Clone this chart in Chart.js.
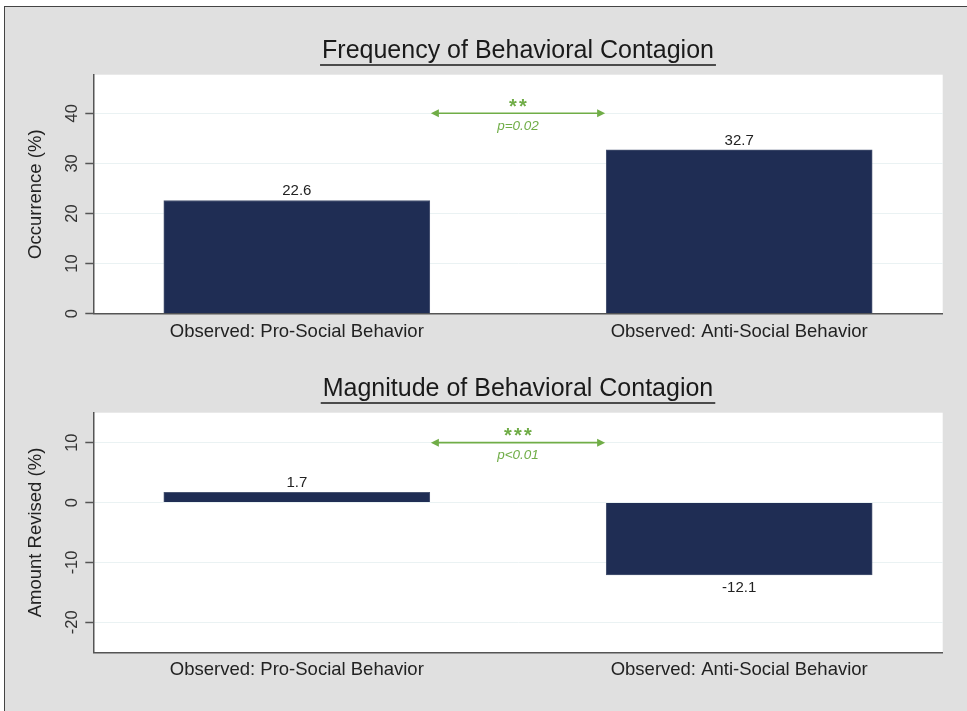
<!DOCTYPE html>
<html>
<head>
<meta charset="utf-8">
<script src="https://cdn.jsdelivr.net/npm/chart.js@4.4.1/dist/chart.umd.min.js"></script>
<style>
  html, body { margin: 0; padding: 0; background: #ffffff; width: 967px; height: 711px; overflow: hidden; }
  #frame { position: absolute; left: 4px; top: 6px; width: 963px; height: 705px; background: #e0e0e0;
           border-left: 1px solid #444; border-top: 1px solid #444; box-sizing: border-box; }
  canvas { position: absolute; left: 0; }
  #c1 { top: 0; }
  #c2 { top: 338px; }
</style>
</head>
<body>
<div id="frame"></div>
<canvas id="c1" width="967" height="355"></canvas>
<canvas id="c2" width="967" height="373"></canvas>
<script>
// ---------- data ----------
const categories = ['Observed: Pro-Social Behavior', 'Observed: Anti-Social Behavior'];
const frequencyValues = [22.6, 32.7];
const magnitudeValues = [1.7, -12.1];
const frequencyTicks = [0, 10, 20, 30, 40];
const magnitudeTicks = [-20, -10, 0, 10];
const panelTitles = ['Frequency of Behavioral Contagion', 'Magnitude of Behavioral Contagion'];
const axisTitles = ['Occurrence (%)', 'Amount Revised (%)'];
const significanceStars = ['**', '***'];
const pValueLabels = ['p=0.02', 'p<0.01'];
const bracketLevels = [40, 10];
const bracketSpan = [0.303, 0.697];

// ---------- styling ----------
const FONT = '"Liberation Sans", Arial, sans-serif';
const NAVY = '#1f2d54';
const GREEN = '#70ad47';
const AXIS = '#555555';
const GRID = '#eaf2f3';

function makePanel(canvasId, p) {
  const plotBg = {
    id: 'plotBg',
    beforeDraw(chart) {
      const a = chart.chartArea, ctx = chart.ctx;
      ctx.save();
      ctx.fillStyle = '#ffffff';
      ctx.fillRect(a.left, a.top, a.right - a.left, a.bottom - a.top);
      ctx.restore();
    }
  };
  const decorations = {
    id: 'decorations',
    afterDatasetsDraw(chart) {
      const ctx = chart.ctx;
      const meta = chart.getDatasetMeta(0);
      ctx.save();
      ctx.font = '15px ' + FONT;
      ctx.fillStyle = '#222222';
      ctx.textAlign = 'center';
      ctx.textBaseline = 'alphabetic';
      meta.data.forEach((bar, i) => {
        const v = p.values[i];
        const y = v >= 0 ? bar.y - 5 : bar.y + 16.5;
        ctx.fillText(v.toFixed(1), bar.x, y);
      });
      ctx.restore();
    },
    afterDraw(chart) {
      const ctx = chart.ctx, a = chart.chartArea;
      const xs = chart.scales.x, ys = chart.scales.y;
      // rotated y tick labels
      ctx.save();
      ctx.font = '16.5px ' + FONT;
      ctx.fillStyle = '#333333';
      ctx.textAlign = 'center';
      ctx.textBaseline = 'middle';
      ys.ticks.forEach(t => {
        const py = ys.getPixelForValue(t.value);
        ctx.save();
        ctx.translate(a.left - 21, py);
        ctx.rotate(-Math.PI / 2);
        ctx.fillText(String(t.value), 0, 0);
        ctx.restore();
      });
      ctx.restore();
      // title underline
      ctx.save();
      ctx.font = '25px ' + FONT;
      const w = ctx.measureText(p.title).width;
      const cx = (a.left + a.right) / 2;
      ctx.strokeStyle = '#1a1a1a';
      ctx.lineWidth = 1.5;
      ctx.beginPath();
      ctx.moveTo(cx - w / 2 - 2, a.top - 9.7);
      ctx.lineTo(cx + w / 2 + 2, a.top - 9.7);
      ctx.stroke();
      ctx.restore();
      // significance bracket
      const x1 = xs.getPixelForValue(bracketSpan[0]);
      const x2 = xs.getPixelForValue(bracketSpan[1]);
      const y = ys.getPixelForValue(p.bracket);
      ctx.save();
      ctx.strokeStyle = GREEN;
      ctx.fillStyle = GREEN;
      ctx.lineWidth = 1.6;
      ctx.beginPath();
      ctx.moveTo(x1 + 6, y);
      ctx.lineTo(x2 - 6, y);
      ctx.stroke();
      ctx.beginPath();
      ctx.moveTo(x1, y); ctx.lineTo(x1 + 8, y - 4); ctx.lineTo(x1 + 8, y + 4); ctx.closePath(); ctx.fill();
      ctx.beginPath();
      ctx.moveTo(x2, y); ctx.lineTo(x2 - 8, y - 4); ctx.lineTo(x2 - 8, y + 4); ctx.closePath(); ctx.fill();
      const mx = (x1 + x2) / 2;
      ctx.font = 'bold 20px ' + FONT;
      ctx.textAlign = 'center';
      ctx.textBaseline = 'alphabetic';
      const n = p.stars.length;
      for (let k = 0; k < n; k++) {
        ctx.fillText('*', mx + (k - (n - 1) / 2) * 10, y - 0.5);
      }
      ctx.font = 'italic 13.5px ' + FONT;
      ctx.textBaseline = 'middle';
      ctx.fillText(p.pLabel, mx, y + 13);
      ctx.restore();
    }
  };

  return new Chart(document.getElementById(canvasId), {
    type: 'bar',
    data: {
      datasets: [{
        data: p.values.map((v, i) => ({ x: i, y: v })),
        backgroundColor: NAVY,
        borderColor: '#4a5673',
        borderWidth: 1,
        barThickness: 266
      }]
    },
    options: {
      responsive: false,
      devicePixelRatio: 1,
      animation: false,
      layout: { padding: { left: 24.9, right: 24.3, top: 0, bottom: 0 } },
      plugins: {
        legend: { display: false },
        tooltip: { enabled: false },
        title: {
          display: true,
          text: p.title,
          fullSize: false,
          color: '#1a1a1a',
          font: { family: FONT, size: 25, weight: 'normal' },
          padding: { top: 36.2, bottom: 8.5 }
        }
      },
      scales: {
        x: {
          type: 'linear',
          offset: false,
          min: -0.46,
          max: 1.46,
          afterBuildTicks: s => { s.ticks = categories.map((c, i) => ({ value: i })); },
          ticks: {
            callback: v => categories[v] !== undefined ? categories[v] : '',
            font: { family: FONT, size: 18.5 },
            color: '#222222',
            padding: 7,
            autoSkip: false,
            maxRotation: 0,
            minRotation: 0
          },
          grid: { display: false, drawTicks: false, offset: false },
          border: { display: true, color: AXIS, width: 1.5 },
          afterFit: s => { s.height = p.xAxisHeight; }
        },
        y: {
          min: p.min,
          max: p.max,
          afterBuildTicks: s => { s.ticks = p.ticks.map(v => ({ value: v })); },
          ticks: { display: false },
          grid: { color: GRID, lineWidth: 1, drawTicks: true, tickLength: 8, tickColor: AXIS, tickWidth: 1.5 },
          border: { display: true, color: AXIS, width: 1.5 },
          title: {
            display: true,
            text: p.axisTitle,
            color: '#222222',
            font: { family: FONT, size: 18.5 },
            padding: { top: 0, bottom: 0 }
          },
          afterFit: s => { s.width = 68.4; }
        }
      }
    },
    plugins: [plotBg, decorations]
  });
}

makePanel('c1', {
  title: panelTitles[0], axisTitle: axisTitles[0], values: frequencyValues,
  ticks: frequencyTicks, min: 0, max: 47.7, bracket: bracketLevels[0],
  stars: significanceStars[0], pLabel: pValueLabels[0], xAxisHeight: 355 - 313.7
});
makePanel('c2', {
  title: panelTitles[1], axisTitle: axisTitles[1], values: magnitudeValues,
  ticks: magnitudeTicks, min: -25, max: 15, bracket: bracketLevels[1],
  stars: significanceStars[1], pLabel: pValueLabels[1], xAxisHeight: 373 - 314.3
});
</script>
</body>
</html>
